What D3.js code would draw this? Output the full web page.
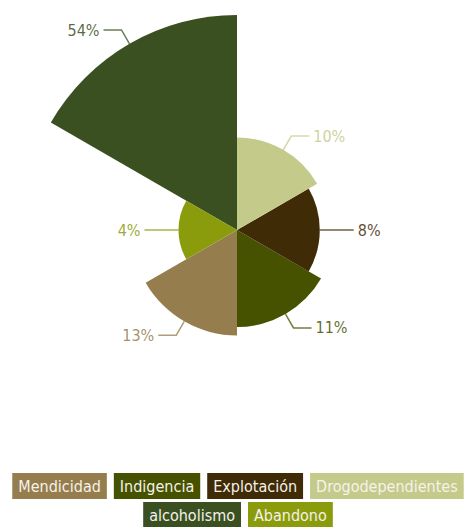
<!DOCTYPE html>
<html>
<head>
<meta charset="utf-8">
<script src="https://cdn.jsdelivr.net/npm/d3@7"></script>
<style>
  body { margin: 0; background: #fff; }
  svg { display: block; font-family: "DejaVu Sans Condensed", "DejaVu Sans", sans-serif; }
</style>
</head>
<body>
<div id="chart"></div>
<script>
// data, in legend order
var categories = ["Mendicidad", "Indigencia", "Explotación", "Drogodependientes", "alcoholismo", "Abandono"];
var values = [13, 11, 8, 10, 54, 4];
var colors = ["#957d4e", "#465200", "#3f2b06", "#c4cb8a", "#3a5020", "#8a9c0c"];

var width = 464, height = 527;
var cx = 237, cy = 230;

var svg = d3.select("#chart").append("svg")
    .attr("width", width)
    .attr("height", height);

var data = categories.map(function(c, i){
    return { name: c, value: values[i], color: colors[i], i: i };
});

// slices run counter-clockwise from 180deg..240deg
var angle = d3.scaleLinear()
    .domain([0, categories.length])
    .range([4 * Math.PI / 3, 4 * Math.PI / 3 - 2 * Math.PI]);

var radius = d3.scaleSqrt()
    .domain([0, d3.max(values)])
    .range([0, 215]);

var arc = d3.arc()
    .innerRadius(0)
    .outerRadius(function(d){ return radius(d.value); })
    .startAngle(function(d){ return angle(d.i + 1); })
    .endAngle(function(d){ return angle(d.i); });

var g = svg.append("g").attr("transform", "translate(" + cx + "," + cy + ")");

g.selectAll(".slice")
    .data(data).enter().append("path")
    .attr("class", "slice")
    .attr("d", arc)
    .attr("fill", function(d){ return d.color; });

// leader lines + labels
var elbow = 16, run = 18;
var labels = g.selectAll(".lbl")
    .data(data).enter().append("g")
    .attr("class", "lbl");

labels.each(function(d){
    var a = (angle(d.i) + angle(d.i + 1)) / 2;
    var r = radius(d.value);
    var sx = Math.sin(a), sy = -Math.cos(a);
    var x0 = sx * r, y0 = sy * r;
    var x1 = sx * (r + elbow), y1 = sy * (r + elbow);
    var dir = sx >= -0.001 ? 1 : -1;
    var x2 = x1 + dir * run;
    var sel = d3.select(this);
    sel.append("polyline")
        .attr("points", [[x0, y0], [x1, y1], [x2, y1]].join(" "))
        .attr("fill", "none")
        .attr("stroke", d.color)
        .attr("stroke-opacity", 0.75)
        .attr("stroke-width", 1.5);
    sel.append("text")
        .attr("x", x2 + dir * 4)
        .attr("y", y1)
        .attr("dy", "0.35em")
        .attr("text-anchor", dir > 0 ? "start" : "end")
        .attr("font-size", 16)
        .attr("fill", d.color)
        .attr("fill-opacity", 0.85)
        .text(d.value + "%");
});

// legend, wrapped and centred rows
var legend = svg.append("g").attr("class", "legend");
var padX = 6, gap = 7, boxH = 26, rowGap = 3, top0 = 473, maxW = width, midX = 238;
var items = legend.selectAll(".item")
    .data(data).enter().append("g")
    .attr("class", "item");
items.append("rect")
    .attr("fill", function(d){ return d.color; });
items.append("text")
    .attr("font-size", 16)
    .attr("fill", "#f6f2ea")
    .attr("dy", "0.35em")
    .text(function(d){ return d.name; });

var rows = [[]], rowW = [0];
items.each(function(d){
    var w = this.querySelector("text").getComputedTextLength() + padX * 2;
    d.w = w;
    var k = rows.length - 1;
    var add = rows[k].length ? gap + w : w;
    if (rowW[k] + add > maxW - 6 && rows[k].length) {
        rows.push([]); rowW.push(0); k++; add = w;
    }
    rows[k].push(this); rowW[k] += add;
});
rows.forEach(function(row, k){
    var x = midX - rowW[k] / 2;
    var y = top0 + k * (boxH + rowGap);
    row.forEach(function(node){
        var d = d3.select(node).datum();
        d3.select(node).attr("transform", "translate(" + x + "," + y + ")");
        d3.select(node).select("rect").attr("width", d.w).attr("height", boxH);
        d3.select(node).select("text").attr("x", padX).attr("y", boxH / 2);
        x += d.w + gap;
    });
});
</script>
</body>
</html>
